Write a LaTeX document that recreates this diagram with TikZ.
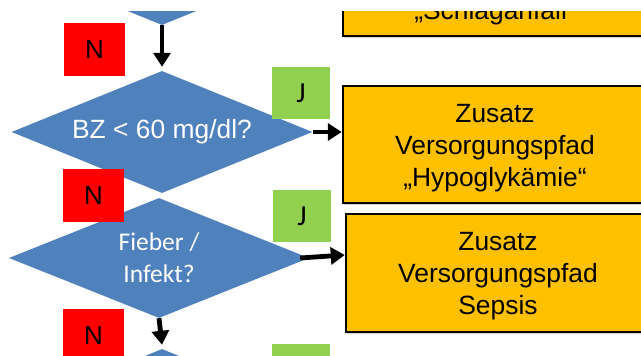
\documentclass[tikz,border=0pt]{standalone}
\usepackage{fontspec}
\setmainfont{Liberation Sans}
\newfontfamily\calfont{Carlito}
\usetikzlibrary{arrows.meta,shapes.geometric,shadows}
\definecolor{dblue}{HTML}{4F81BD}
\definecolor{borange}{HTML}{FFC000}
\definecolor{nred}{HTML}{FF0000}
\definecolor{jgreen}{HTML}{92D050}
\begin{document}
\begin{tikzpicture}[x=1pt,y=1pt,
  dia/.style={diamond, aspect=2.47, fill=dblue, inner sep=0pt, minimum width=301pt, minimum height=122pt, text=white, align=center},
  obox/.style={rectangle, draw=black, line width=2.5pt, fill=borange, minimum width=304pt, minimum height=117pt,
    inner sep=0pt, align=center, font=\fontsize{26.4}{32}\selectfont,
    drop shadow={shadow xshift=1pt, shadow yshift=-2pt, opacity=0.35}},
  nbox/.style={rectangle, fill=nred, minimum width=61pt, minimum height=53pt, inner sep=0pt, font=\fontsize{26}{30}\selectfont},
  jbox/.style={rectangle, fill=jgreen, minimum width=58pt, minimum height=52pt, inner sep=0pt, font=\calfont\fontsize{29}{30}\selectfont},
  arr/.style={line width=4.8pt, -{Triangle[width=17pt,length=14pt]}}
]
\useasboundingbox (0,0) rectangle (641,356);
\clip (0,0) rectangle (641,344);

% diamonds
\node[dia] (d0) at (162,392) {};
\node[dia, font=\fontsize{26.4}{32}\selectfont] (bz) at (162,224) {BZ < 60 mg/dl?};
\node[dia, minimum width=300pt, minimum height=120pt, font=\calfont\fontsize{25.5}{32}\selectfont] (fi) at (159,98) {Fieber /\\Infekt?};
\node[dia] (d4) at (162,-54) {};

% orange boxes
\node[obox] (sch) at (495,378.5) {\rule{0pt}{25pt}Zusatz\\Versorgungspfad\\„Schlaganfall“};
\node[obox] (hypo) at (495,211.5) {\rule{0pt}{25pt}Zusatz\\Versorgungspfad\\„Hypoglykämie“};
\node[obox, minimum height=118pt] (sep) at (498,83) {\rule{0pt}{25pt}Zusatz\\Versorgungspfad\\Sepsis};

% connectors
\draw[arr] (d0.south) -- ([yshift=4pt]bz.north);
\draw[arr] (bz.east) -- (bz.east -| hypo.west);
\draw[arr] ([xshift=-9pt]fi.east) -- ([yshift=18pt]sep.west);
\draw[arr] (fi.south) -- ([yshift=4pt]d4.north);

% N / J labels
\node[nbox] (n1) at (94.5,306.5) {N};
\node[nbox] (n2) at (93.5,160) {N};
\node[nbox] (n3) at (93.5,20.5) {N};
\node[jbox] (j1) at (301,263) {J};
\node[jbox] (j2) at (302,139.5) {J};
\node[jbox] (j3) at (301,-14) {J};
\end{tikzpicture}
\end{document}
